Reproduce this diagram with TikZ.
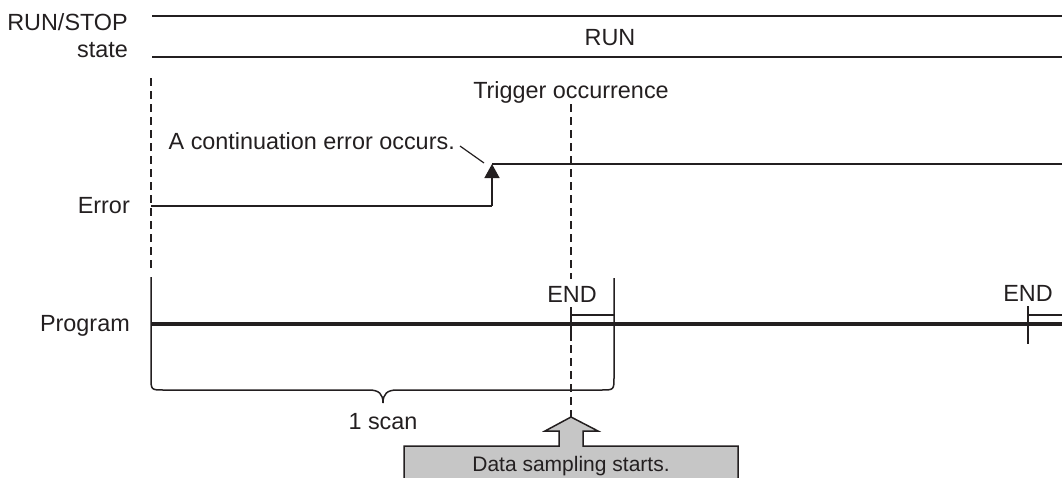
\documentclass[tikz,border=0pt]{standalone}
\usepackage{fontspec}
\setmainfont{Liberation Sans}
\usetikzlibrary{arrows.meta}
\definecolor{ink}{HTML}{231F20}
\definecolor{boxgray}{HTML}{C6C6C6}
\begin{document}
\begin{tikzpicture}[x=1pt,y=-1pt,
  ln/.style={line width=1.5pt, draw=ink},
  dsh/.style={line width=1.5pt, draw=ink, dash pattern=on 8pt off 5pt},
  thick line/.style={line width=4.5pt, draw=ink},
  lbl/.style={inner sep=0pt, text height=16.7pt, text depth=0pt, font=\fontsize{23.4}{27}\selectfont, text=ink},
  boxlbl/.style={inner sep=0pt, text height=15pt, text depth=0pt, font=\fontsize{21}{25}\selectfont, text=ink},
]
\useasboundingbox (0,0) rectangle (1062,477);
\clip (0,0) rectangle (1062,477);

% RUN/STOP state
\node[lbl,anchor=east] (runstop) at (128,22) {RUN/STOP};
\node[lbl,anchor=east] (state) at (128,49) {state};
\coordinate (rsA1) at (152,16); \coordinate (rsA2) at (1062,16);
\coordinate (rsB1) at (152,57); \coordinate (rsB2) at (1062,57);
\draw[ln] (rsA1) -- (rsA2);
\draw[ln] (rsB1) -- (rsB2);
\node[lbl] (run) at (610,37.5) {RUN};

% left dashed reference line
\coordinate (d0top) at (151,78);
\coordinate (d0bot) at (151,272);
\draw[dsh] (d0top) -- (d0bot);

% Error signal
\node[lbl,anchor=east] (error) at (130,205) {Error};
\coordinate (e0) at (151,206);
\coordinate (e1) at (492,206);
\coordinate (e2) at (492,164);
\coordinate (e3) at (1062,164);
\draw[ln] (e0) -- (e1);
\draw[ln,-{Triangle[length=14pt,width=15pt]}] (e1) -- (e2);
\draw[ln] (e2) -- (e3);
\node[lbl,anchor=east] (conterr) at (455,141.5) {A continuation error occurs.};
\coordinate (lead1) at (460,146);
\coordinate (lead2) at (484,163);
\draw[line width=1.2pt, draw=ink] (lead1) -- (lead2);

% Trigger
\node[lbl] (trig) at (571,90) {Trigger occurrence};
\coordinate (t0) at (571,104);
\coordinate (t1) at (571,279);
\coordinate (t2) at (571,345);
\coordinate (tip) at (571,417);
\draw[dsh] (t0) -- (t1);
\draw[dsh] (t2) -- (tip);

% Program
\node[lbl,anchor=east] (program) at (130,323) {Program};
\coordinate (p0) at (151,324);
\coordinate (p1) at (1062,324);
\draw[thick line] (p0) -- (p1);

% END markers
\node[lbl] (end1) at (572,294) {END};
\coordinate (m1a) at (571,307); \coordinate (m1b) at (571,341);
\coordinate (m1c) at (571,315); \coordinate (m1d) at (614,315);
\draw[ln] (m1a) -- (m1b);
\draw[ln] (m1c) -- (m1d);
\node[lbl] (end2) at (1028,293) {END};
\coordinate (m2a) at (1028,306); \coordinate (m2b) at (1028,344);
\coordinate (m2c) at (1028,315); \coordinate (m2d) at (1062,315);
\draw[ln] (m2a) -- (m2b);
\draw[ln] (m2c) -- (m2d);

% brace (1 scan)
\coordinate (b0top) at (151,277);
\coordinate (b1top) at (614,278);
\coordinate (bt) at (383,403);
\draw[ln] (b0top) -- (151,377) .. controls (151,390) .. (164,390) -- (369,390)
  .. controls (379,390) and (383,394) .. (bt)
  .. controls (383,394) and (387,390) .. (397,390) -- (601,390)
  .. controls (614,390) .. (614,377) -- (b1top);
\node[lbl] (scan) at (383,421) {1 scan};

% block arrow + box
\fill[boxgray] (404,480) -- (404,446) -- (559,446) -- (559,431) -- (545,431) -- (tip)
  -- (598,431) -- (583,431) -- (583,446) -- (738,446) -- (738,480) -- cycle;
\draw[ln, line join=miter] (404,480) -- (404,446) -- (559,446) -- (559,431) -- (545,431) -- (tip)
  -- (598,431) -- (583,431) -- (583,446) -- (738,446) -- (738,480);
\node[boxlbl] (sampling) at (571,464) {Data sampling starts.};
\end{tikzpicture}
\end{document}
